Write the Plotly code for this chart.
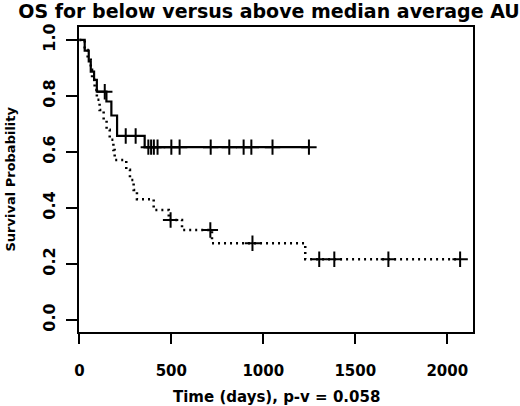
import numpy as np
import plotly.graph_objects as go

# solid curve (step function) and its censored times
solid_days = [0, 29, 51, 62, 80, 95, 147, 174, 205, 355, 1250]
solid_surv = [1.0, 0.962, 0.923, 0.887, 0.857, 0.815, 0.78, 0.73, 0.657, 0.617, 0.617]
solid_cens = [138, 252, 306, 375, 390, 405, 425, 500, 545, 714, 815, 893, 935, 1050, 1248]

# dotted curve (step function) and its censored times
dot_days = [0, 29, 45, 62, 69, 83, 95, 110, 132, 148, 165, 185, 192,
            255, 275, 295, 313, 404, 486, 558, 721, 1228, 2072]
dot_surv = [1.0, 0.964, 0.929, 0.893, 0.857, 0.821, 0.786, 0.75, 0.714, 0.679, 0.643,
            0.607, 0.571, 0.536, 0.5, 0.464, 0.431, 0.393, 0.357, 0.321, 0.274, 0.217, 0.217]
dot_cens = [496, 712, 941, 1304, 1386, 1680, 2070]

x_ticks = [0, 500, 1000, 1500, 2000]
y_ticks = [0.0, 0.2, 0.4, 0.6, 0.8, 1.0]

FONT = "DejaVu Sans"


def step_at(days, surv, t):
    i = np.searchsorted(np.array(days), t, side="right") - 1
    return surv[i]


fig = go.Figure()
fig.add_trace(go.Scatter(x=solid_days, y=solid_surv, mode="lines", line_shape="hv",
                         line=dict(color="black", width=2.2)))
fig.add_trace(go.Scatter(x=dot_days, y=dot_surv, mode="lines", line_shape="hv",
                         line=dict(color="black", width=2.5, dash="2px,4px")))
fig.add_trace(go.Scatter(x=solid_cens, y=[step_at(solid_days, solid_surv, t) for t in solid_cens],
                         mode="markers",
                         marker=dict(symbol="cross-thin", size=11, line=dict(color="black", width=2))))
fig.add_trace(go.Scatter(x=dot_cens, y=[step_at(dot_days, dot_surv, t) for t in dot_cens],
                         mode="markers",
                         marker=dict(symbol="cross-thin", size=11, line=dict(color="black", width=2))))

fig.update_layout(
    width=520, height=406,
    margin=dict(l=79, r=47, t=27, b=74),
    paper_bgcolor="white", plot_bgcolor="white",
    showlegend=False,
    font=dict(family=FONT, color="black", size=15, weight="bold"),
    title=dict(text="OS for below versus above median average AUC", x=0.5, xref="paper",
               xanchor="center", y=1 - 11 / 406, yanchor="middle",
               font=dict(size=19, family=FONT, weight="bold")),
)
fig.update_xaxes(range=[-2, 2140], tickvals=x_ticks, ticktext=[str(v) for v in x_ticks],
                 showgrid=False, zeroline=False, showline=True, linecolor="black", linewidth=2,
                 mirror=True, ticks="outside", ticklen=10, tickwidth=2, tickcolor="black",
                 ticklabelstandoff=14)
fig.update_yaxes(range=[-0.043, 1.046], tickvals=y_ticks, ticktext=[f"{v:.1f}" for v in y_ticks],
                 showgrid=False, zeroline=False, showline=True, linecolor="black", linewidth=2,
                 mirror=True, ticks="outside", ticklen=11, tickwidth=2, tickcolor="black",
                 tickangle=-90, ticklabelstandoff=5, tickfont=dict(size=16))

fig.add_shape(type="line", xref="paper", yref="paper", x0=0, x1=0, y0=0, y1=-10 / 305,
              line=dict(color="black", width=2))

fig.add_annotation(text="Time (days), p-v = 0.058", xref="paper", yref="paper",
                   x=0.5, y=-65 / 305, xanchor="center", yanchor="middle", showarrow=False,
                   font=dict(size=15, family=FONT, weight="bold"))
fig.add_annotation(text="Survival Probability", xref="paper", yref="paper",
                   x=-69 / 394, y=0.5, xanchor="center", yanchor="middle", showarrow=False,
                   textangle=-90, font=dict(size=13, family=FONT, weight="bold"))

fig.write_html("out.html", post_script="document.body.style.margin='0';",
               config={"displayModeBar": False})
